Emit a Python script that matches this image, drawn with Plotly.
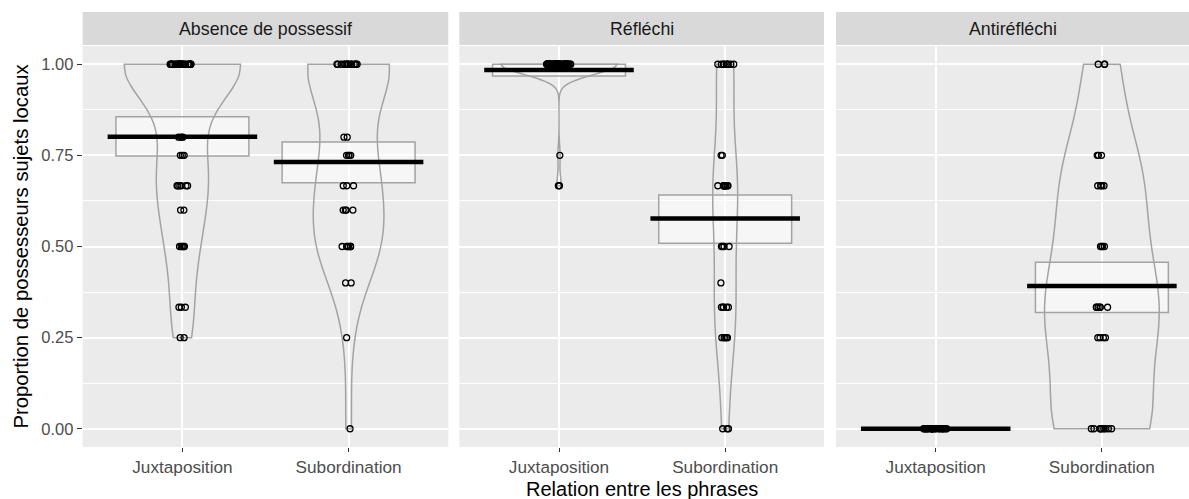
import numpy as np
import plotly.graph_objects as go

W, H = 1189, 499

panels = ["Absence de possessif", "Réfléchi", "Antiréfléchi"]
relations = ["Juxtaposition", "Subordination"]

# proportion levels observed and number of speakers at each level
abs_juxt_levels = [1.0, 0.8, 0.75, 2/3, 0.6, 0.5, 1/3, 0.25]
abs_juxt_counts = [27, 3, 3, 6, 2, 5, 3, 2]
abs_sub_levels = [1.0, 0.8, 0.75, 2/3, 0.6, 0.5, 0.4, 0.25, 0.0]
abs_sub_counts = [15, 2, 4, 3, 4, 7, 2, 1, 1]

ref_juxt_levels = [1.0, 0.75, 2/3]
ref_juxt_counts = [54, 1, 2]
ref_sub_levels = [1.0, 0.75, 2/3, 0.5, 0.4, 1/3, 0.25, 0.0]
ref_sub_counts = [9, 2, 10, 4, 1, 5, 5, 3]

anti_juxt_levels = [0.0]
anti_juxt_counts = [20]
anti_sub_levels = [1.0, 0.75, 2/3, 0.5, 1/3, 0.25, 0.0]
anti_sub_counts = [3, 3, 4, 4, 6, 4, 9]

# inference band limits (box)
abs_ci_low = [0.748, 0.675]
abs_ci_high = [0.856, 0.787]
ref_ci_low = [0.968, 0.509]
ref_ci_high = [1.0, 0.641]
anti_ci_low = [0.0, 0.319]
anti_ci_high = [0.0, 0.457]

# violin maximum widths (x units)
abs_violin_w = [0.70, 0.49]
ref_violin_w = [0.70, 0.15]
anti_violin_w = [0.0, 0.69]

levels = [[abs_juxt_levels, abs_sub_levels], [ref_juxt_levels, ref_sub_levels],
          [anti_juxt_levels, anti_sub_levels]]
counts = [[abs_juxt_counts, abs_sub_counts], [ref_juxt_counts, ref_sub_counts],
          [anti_juxt_counts, anti_sub_counts]]
ci_low = [abs_ci_low, ref_ci_low, anti_ci_low]
ci_high = [abs_ci_high, ref_ci_high, anti_ci_high]
violin_w = [abs_violin_w, ref_violin_w, anti_violin_w]


def nrd0(x):
    x = np.asarray(x, float)
    sd = x.std(ddof=1)
    iqr = np.subtract(*np.percentile(x, [75, 25]))
    lo = min(sd, iqr / 1.34)
    if lo == 0:
        lo = sd if sd > 0 else 1.0
    return 0.9 * lo * len(x) ** -0.2


FONT = "Liberation Sans, Arial, Helvetica, sans-serif"
GREY_LINE = "#A3A3A3"

# panel geometry in pixels
px_left = [82.7, 459.3, 836.0]
px_right = [448.3, 824.0, 1189.0]
panel_top, panel_bottom = 46, 447
unit_px = (px_right[0] - px_left[0]) / 2.2

fig = go.Figure()
pos = [1, 2]

for p in range(3):
    xa = "x" if p == 0 else f"x{p+1}"
    ya = "y" if p == 0 else f"y{p+1}"
    # inference bands
    lo = np.array(ci_low[p])
    hi = np.array(ci_high[p])
    fig.add_trace(go.Bar(x=pos, y=hi - lo, base=lo, width=0.8, xaxis=xa, yaxis=ya,
                         marker=dict(color="rgba(255,255,255,0.55)",
                                     line=dict(color=GREY_LINE, width=1.5)),
                         showlegend=False, hoverinfo="skip"))
    for r in range(2):
        vals = np.repeat(levels[p][r], counts[p][r])
        if vals.std() > 0:
            fig.add_trace(go.Violin(
                x=[pos[r]] * len(vals), y=vals, xaxis=xa, yaxis=ya,
                width=violin_w[p][r], scalemode="width", scalegroup=f"g{p}{r}",
                bandwidth=nrd0(vals), spanmode="hard", points=False,
                fillcolor="rgba(0,0,0,0)", line=dict(color=GREY_LINE, width=1.5),
                box_visible=False, meanline_visible=False, showlegend=False,
                hoverinfo="skip", orientation="v"))
        fig.add_trace(go.Box(
            x=[pos[r]] * len(vals), y=vals, xaxis=xa, yaxis=ya,
            boxpoints="all", jitter=0.75, pointpos=0, width=0.2,
            fillcolor="rgba(0,0,0,0)", line=dict(color="rgba(0,0,0,0)", width=0),
            marker=dict(color="black", size=6, symbol="circle-open",
                        line=dict(width=1.3, color="black")),
            showlegend=False, hoverinfo="skip", orientation="v"))
        m = vals.mean()
        fig.add_trace(go.Scatter(x=[pos[r] - 0.45, pos[r] + 0.45], y=[m, m],
                                 xaxis=xa, yaxis=ya, mode="lines",
                                 line=dict(color="black", width=4.5),
                                 showlegend=False, hoverinfo="skip"))

y0 = (H - panel_bottom) / H
y1 = (H - panel_top) / H
layout = dict(width=W, height=H, margin=dict(l=0, r=0, t=0, b=0),
              paper_bgcolor="white", plot_bgcolor="#EBEBEB",
              font=dict(family=FONT, color="#4D4D4D"), showlegend=False,
              barmode="overlay", violinmode="overlay", boxmode="overlay")

for p in range(3):
    sfx = "" if p == 0 else str(p + 1)
    rng_right = 0.4 + (px_right[p] - px_left[p]) / unit_px
    layout[f"xaxis{sfx}"] = dict(
        domain=[px_left[p] / W, px_right[p] / W], range=[0.4, rng_right],
        anchor=f"y{sfx}", tickvals=pos, ticktext=relations, ticks="outside",
        ticklen=4, tickwidth=1.1, tickcolor="#333333", showgrid=True,
        gridcolor="white", gridwidth=1.8, zeroline=False, showline=False,
        tickfont=dict(size=17.2, color="#4D4D4D", family=FONT), automargin=False,
        fixedrange=True)
    layout[f"yaxis{sfx}"] = dict(
        domain=[y0, y1], range=[-0.05, 1.05], anchor=f"x{sfx}",
        tickvals=[0, 0.25, 0.5, 0.75, 1.0], tickformat=".2f",
        ticks="outside" if p == 0 else "", ticklen=5, tickwidth=1.1,
        tickcolor="#333333", showticklabels=(p == 0), showgrid=True,
        gridcolor="white", gridwidth=1.8, zeroline=False, showline=False,
        minor=dict(tick0=0.125, dtick=0.25, showgrid=True, gridcolor="white",
                   gridwidth=0.9, ticks=""),
        tickfont=dict(size=16.5, color="#4D4D4D", family=FONT), automargin=False,
        fixedrange=True)

fig.update_layout(**layout)

strip_top, strip_bottom = 12, 45
for p in range(3):
    fig.add_shape(type="rect", xref="paper", yref="paper",
                  x0=px_left[p] / W, x1=px_right[p] / W,
                  y0=(H - strip_bottom) / H, y1=(H - strip_top) / H,
                  fillcolor="#D9D9D9", line=dict(width=0), layer="below")
    fig.add_annotation(x=(px_left[p] + px_right[p]) / 2 / W,
                       y=(H - (strip_top + strip_bottom) / 2) / H,
                       xref="paper", yref="paper", text=panels[p], showarrow=False,
                       font=dict(size=17.8, color="#1A1A1A", family=FONT),
                       xanchor="center", yanchor="middle")

fig.add_annotation(x=642 / W, y=(H - 489) / H, xref="paper", yref="paper",
                   text="Relation entre les phrases", showarrow=False,
                   font=dict(size=20, color="black", family=FONT),
                   xanchor="center", yanchor="middle")
fig.add_annotation(x=20 / W, y=(H - (panel_top + panel_bottom) / 2) / H,
                   xref="paper", yref="paper",
                   text="Proportion de possesseurs sujets locaux", showarrow=False,
                   textangle=-90, font=dict(size=20.3, color="black", family=FONT),
                   xanchor="center", yanchor="middle")

fig.write_html("out.html", config={"displayModeBar": False},
               post_script="document.body.style.margin='0';"
                           "document.body.style.overflow='hidden';")
